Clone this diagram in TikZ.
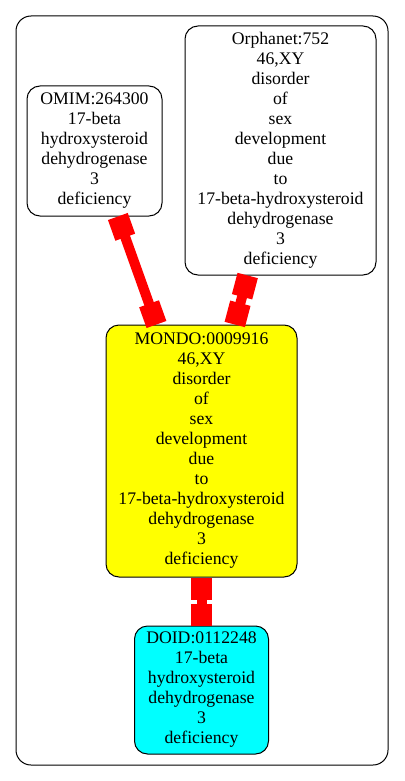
\documentclass[tikz,border=0pt]{standalone}
\usepackage{fontspec}
\setmainfont{Liberation Serif}
\usetikzlibrary{arrows.meta, positioning}
\definecolor{mondoyellow}{RGB}{255,255,0}
\definecolor{doidcyan}{RGB}{0,255,255}
\definecolor{linkred}{RGB}{255,0,0}

\begin{document}
\begin{tikzpicture}[
    x=1pt, y=1pt,
    node distance=48pt,
    term/.style={rectangle, draw=black, line width=1pt, rounded corners=13pt, align=center, inner sep=4pt, font=\fontsize{17.7}{20}\selectfont},
    link/.style={line width=10pt, draw=linkred, {Rectangle[length=22pt, width=21pt]}-{Rectangle[length=22pt, width=21pt]}}
]

% Frame
\useasboundingbox (0,0) rectangle (404,-781);
\draw[line width=1pt, rounded corners=15pt] (16,-16) rectangle (388,-765);

% Nodes
\node[term, fill=mondoyellow, minimum width=191pt, minimum height=252pt] (mondo) at (201.5,-451) {MONDO:0009916\\46,XY\\disorder\\of\\sex\\development\\due\\to\\17-beta-hydroxysteroid\\dehydrogenase\\3\\deficiency};
\node[term, fill=doidcyan, minimum width=134pt, minimum height=128pt, below=of mondo] (doid) {DOID:0112248\\17-beta\\hydroxysteroid\\dehydrogenase\\3\\deficiency};
\node[term, minimum width=191pt, minimum height=249pt, above=49pt of mondo, xshift=79pt] (orphanet) {Orphanet:752\\46,XY\\disorder\\of\\sex\\development\\due\\to\\17-beta-hydroxysteroid\\dehydrogenase\\3\\deficiency};
\node[term, minimum width=135pt, minimum height=130pt, above=108pt of mondo, xshift=-107pt] (omim) {OMIM:264300\\17-beta\\hydroxysteroid\\dehydrogenase\\3\\deficiency};

% Links
\draw[link] (omim) -- (mondo);
\draw[link] (orphanet) -- (mondo);
\draw[link] (mondo) -- (doid);

\end{tikzpicture}
\end{document}
